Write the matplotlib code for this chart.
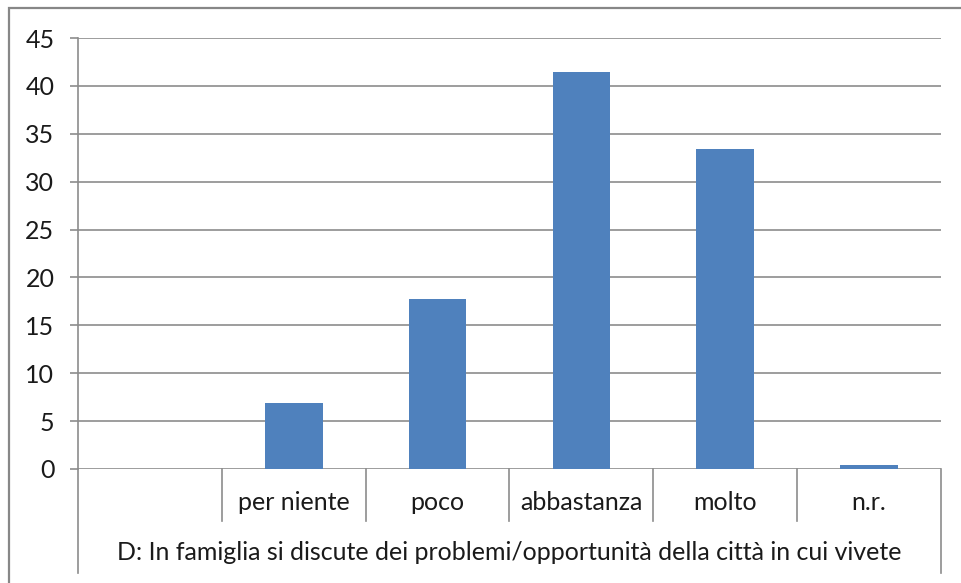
import matplotlib.pyplot as plt
from matplotlib.patches import Rectangle
import matplotlib.transforms as mtransforms

# data
categories = ["", "per niente", "poco", "abbastanza", "molto", "n.r."]
values = [0, 6.9, 17.8, 41.5, 33.4, 0.4]
group_label = "D: In famiglia si discute dei problemi/opportunità della città in cui vivete"
yticks = [0, 5, 10, 15, 20, 25, 30, 35, 40, 45]

plt.rcParams['font.family'] = ['Lato', 'DejaVu Sans']
W, H = 961, 583
fig = plt.figure(figsize=(W / 100, H / 100), dpi=100)

# outer chart border (runs off the right and bottom edge like the original)
fig.patches.append(Rectangle((9 / W, -0.05), 1.1, (H - 8) / H + 0.05,
                             transform=fig.transFigure, fill=False,
                             edgecolor='#878787', lw=1.6))

ax = fig.add_axes([78 / W, (H - 469) / H, (941 - 78) / W, (469 - 38) / H])
grid_col = '#8c8c8c'
txt_col = '#1a1a1a'

xs = [i + 0.5 for i in range(len(categories))]
bars = [(x, v) for x, v, c in zip(xs, values, categories) if c]
ax.bar([b[0] for b in bars], [b[1] for b in bars], width=0.4, color='#4f81bd', zorder=3)

ax.set_xlim(0, len(categories))
ax.set_ylim(0, 45)
ax.set_yticks(yticks)
ax.yaxis.grid(True, color=grid_col, lw=1.2)
ax.set_axisbelow(True)
for s in ['top', 'right', 'bottom']:
    ax.spines[s].set_visible(False)
ax.spines['left'].set_color(grid_col)
ax.spines['left'].set_linewidth(1.2)
ax.tick_params(axis='y', length=6, width=1.2, color=grid_col, pad=11,
               labelsize=18, labelcolor=txt_col)
ax.set_xticks([])

trans = mtransforms.blended_transform_factory(ax.transData, ax.transAxes)
low = (469 - 573) / 431
mid = (469 - 521) / 431
# axis extensions and category dividers
ax.plot([0, 0], [0, low], transform=trans, color=grid_col, lw=1.2, clip_on=False)
ax.plot([len(categories)] * 2, [0, low], transform=trans, color=grid_col, lw=1.2, clip_on=False)
for i in range(1, len(categories)):
    ax.plot([i, i], [0, mid], transform=trans, color=grid_col, lw=1.2, clip_on=False)

for x, c in zip(xs, categories):
    ax.text(x, (469 - 503) / 431, c, transform=trans, ha='center', va='center',
            fontsize=18, color=txt_col)
ax.text(len(categories) / 2, (469 - 553) / 431, group_label, transform=trans,
        ha='center', va='center', fontsize=18, color=txt_col)

fig.savefig('out.png', dpi=100)
